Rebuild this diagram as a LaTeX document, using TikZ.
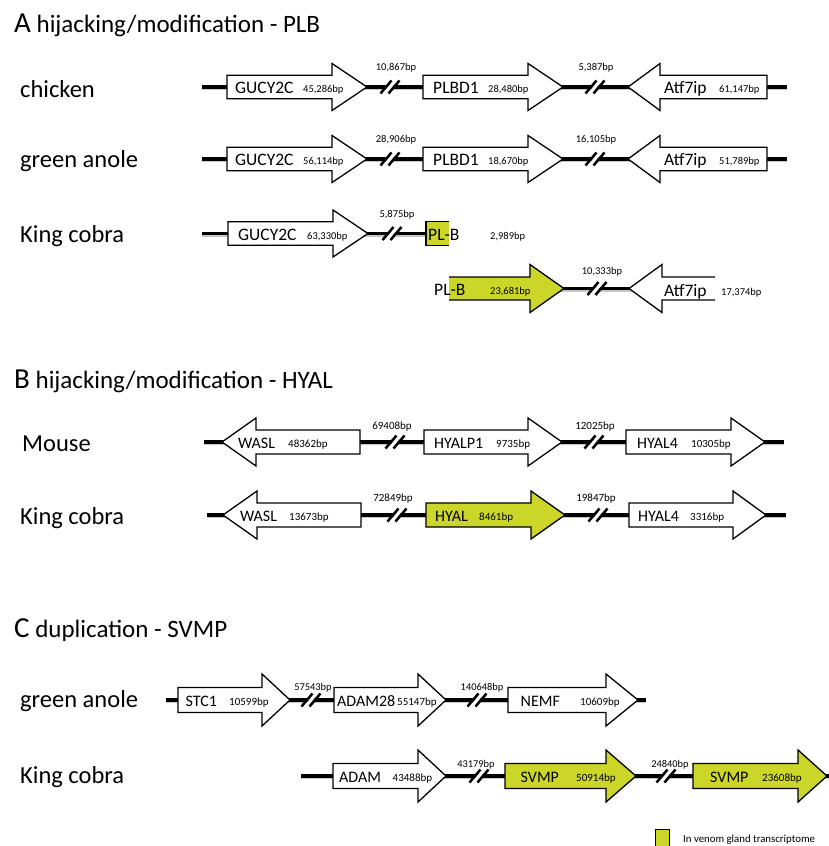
\documentclass[tikz,border=0pt]{standalone}
\usepackage{fontspec}
\setmainfont{Carlito}
\definecolor{venom}{RGB}{203,214,41}
\newcommand\chrom[4]{%
  \coordinate (#1s) at (#2,#4);
  \coordinate (#1e) at (#3,#4);
  \draw[gray!45, line width=2pt] ([yshift=-2.2pt]#1s) -- ([yshift=-2.2pt]#1e);
  \draw[line width=3.4pt] (#1s) -- (#1e);}
\newcommand\brk[2]{%
  \draw[white, line width=3.4pt] (#1-5.5,#2+6.5) -- (#1+5.5,#2-6.5);
  \draw[line width=2.5pt] (#1-9.5,#2+6.5) -- (#1+1.5,#2-6.5);
  \draw[line width=2.5pt] (#1-1.5,#2+6.5) -- (#1+9.5,#2-6.5);}
% right-pointing gene: x1, head base, tip, y, h, H, fill
\newcommand\gR[7]{%
  \filldraw[fill=#7, gene] (#1,#4-#5) -- (#2,#4-#5) -- (#2,#4-#6) -- (#3,#4) -- (#2,#4+#6) -- (#2,#4+#5) -- (#1,#4+#5) -- cycle;}
% left-pointing gene: tip, head base, right end, y, h, H, fill
\newcommand\gL[7]{%
  \filldraw[fill=#7, gene] (#3,#4-#5) -- (#2,#4-#5) -- (#2,#4-#6) -- (#1,#4) -- (#2,#4+#6) -- (#2,#4+#5) -- (#3,#4+#5) -- cycle;}
\tikzset{
  gene/.style={draw=black, line width=1.3pt, line join=miter, miter limit=10},
  title/.style={anchor=base west, inner sep=0pt, font=\fontsize{25}{30}\selectfont},
  species/.style={anchor=base west, inner sep=0pt, font=\fontsize{24.5}{29}\selectfont},
  gnA/.style={anchor=base west, inner sep=0pt, font=\fontsize{17.5}{20}\selectfont},
  gnB/.style={anchor=base west, inner sep=0pt, font=\fontsize{16}{19}\selectfont},
  bpA/.style={anchor=base west, inner sep=0pt, font=\fontsize{10.5}{12}\selectfont},
  bpB/.style={anchor=base west, inner sep=0pt, font=\fontsize{11}{13}\selectfont},
  gapA/.style={anchor=base, inner sep=0pt, font=\fontsize{10.5}{12}\selectfont},
  gapB/.style={anchor=base, inner sep=0pt, font=\fontsize{11}{13}\selectfont},
  gapC/.style={anchor=base, inner sep=0pt, font=\fontsize{10.4}{12}\selectfont},
  legend/.style={anchor=base west, inner sep=0pt, font=\fontsize{10.8}{12}\selectfont},
}
\begin{document}
\begin{tikzpicture}[x=1pt, y=-1pt]
\fill[white] (0,0) rectangle (829,846);
\path[use as bounding box] (0,0) rectangle (829,846);

% ---------------- Section A ----------------
\node[title] (tA) at (14,32) {{\fontsize{29}{30}\selectfont A} hijacking/modification - PLB};

% chicken
\node[species] (sp1) at (20,97) {chicken};
\chrom{c1}{202}{787}{87}
\brk{390}{87}\brk{595}{87}
\gR{227}{332}{367}{87}{11.7}{23.5}{white}
\gR{423}{528}{563}{87}{11.7}{23.5}{white}
\gL{628}{660}{767}{87}{11.7}{23.5}{white}
\node[gnA] (c1g1) at (235,93) {GUCY2C};
\node[bpA] (c1b1) at (303,92) {45,286bp};
\node[gnA] (c1g2) at (433,93) {PLBD1};
\node[bpA] (c1b2) at (488,92) {28,480bp};
\node[gnA] (c1g3) at (664,93) {Atf7ip};
\node[bpA] (c1b3) at (719,92) {61,147bp};
\node[gapA] (c1d1) at (396,70.5) {10,867bp};
\node[gapA] (c1d2) at (596,70.5) {5,387bp};

% green anole
\node[species] (sp2) at (20,167) {green anole};
\chrom{c2}{202}{787}{159}
\brk{390}{159}\brk{595}{159}
\gR{227}{332}{367}{159}{11.7}{23.5}{white}
\gR{423}{528}{563}{159}{11.7}{23.5}{white}
\gL{628}{660}{767}{159}{11.7}{23.5}{white}
\node[gnA] (c2g1) at (235,165) {GUCY2C};
\node[bpA] (c2b1) at (303,164) {56,114bp};
\node[gnA] (c2g2) at (433,165) {PLBD1};
\node[bpA] (c2b2) at (488,164) {18,670bp};
\node[gnA] (c2g3) at (664,165) {Atf7ip};
\node[bpA] (c2b3) at (719,164) {51,789bp};
\node[gapA] (c2d1) at (396,142.5) {28,906bp};
\node[gapA] (c2d2) at (596,142.5) {16,105bp};

% King cobra (A)
\node[species] (sp3) at (20,242) {King cobra};
\chrom{c3}{202}{426}{233.5}
\brk{392}{233.5}
\gR{228}{333}{368}{233.5}{11.7}{23.5}{white}
\fill[venom] (426,221.5) rectangle (449,245.5);
\draw[gene] (449,221.5) -- (426,221.5) -- (426,245.5) -- (449,245.5);
\node[gnA] (c3g1) at (238,240) {GUCY2C};
\node[bpA] (c3b1) at (307,239) {63,330bp};
\node[gnA] (c3g2) at (428,240.5) {PL-B};
\node[bpA] (c3b2) at (490,239.5) {2,989bp};
\node[gapA] (c3d1) at (397,217) {5,875bp};

% King cobra (A) second part
\chrom{c4}{560}{632}{288.5}
\brk{597}{288.5}
\fill[venom] (449,277) -- (530,277) -- (530,264.5) -- (564,288.5) -- (530,312.5) -- (530,300) -- (449,300) -- cycle;
\draw[gene] (449,277) -- (530,277) -- (530,264.5) -- (564,288.5) -- (530,312.5) -- (530,300) -- (449,300);
\fill[white] (715,277) -- (662,277) -- (662,264.5) -- (629,288.5) -- (662,312.5) -- (662,300) -- (715,300) -- cycle;
\draw[gene] (715,277) -- (662,277) -- (662,264.5) -- (629,288.5) -- (662,312.5) -- (662,300) -- (715,300);
\node[gnA] (c4g1) at (434,295) {PL-B};
\node[bpA] (c4b1) at (490,294.5) {23,681bp};
\node[gnA] (c4g2) at (664,296) {Atf7ip};
\node[bpA] (c4b2) at (721,295) {17,374bp};
\node[gapA] (c4d1) at (602,274) {10,333bp};

% ---------------- Section B ----------------
\node[title] (tB) at (14,388) {{\fontsize{29}{30}\selectfont B} hijacking/modification - HYAL};

% Mouse
\node[species] (sp5) at (22,451) {Mouse};
\chrom{c5}{204}{784}{442}
\brk{395}{442}\brk{594}{442}
\gL{222}{256}{360}{442}{12}{24}{white}
\gR{424}{528}{562}{442}{12}{24}{white}
\gR{626}{731}{765}{442}{12}{24}{white}
\node[gnB] (c5g1) at (238,448) {WASL};
\node[bpB] (c5b1) at (288,447) {48362bp};
\node[gnB] (c5g2) at (434,448) {HYALP1};
\node[bpB] (c5b2) at (496,447) {9735bp};
\node[gnB] (c5g3) at (637,448) {HYAL4};
\node[bpB] (c5b3) at (691,447) {10305bp};
\node[gapB] (c5d1) at (392,429) {69408bp};
\node[gapB] (c5d2) at (595,429) {12025bp};

% King cobra (B)
\node[species] (sp6) at (20,524) {King cobra};
\chrom{c6}{207}{786}{515}
\brk{397}{515}\brk{598}{515}
\gL{223}{257}{361}{515}{12}{24}{white}
\gR{426}{531}{565}{515}{12}{24}{venom}
\gR{629}{733}{766}{515}{12}{24}{white}
\node[gnB] (c6g1) at (240,521) {WASL};
\node[bpB] (c6b1) at (289,520) {13673bp};
\node[gnB] (c6g2) at (435,521) {HYAL};
\node[bpB] (c6b2) at (479,520) {8461bp};
\node[gnB] (c6g3) at (638,521) {HYAL4};
\node[bpB] (c6b3) at (690,520) {3316bp};
\node[gapB] (c6d1) at (393,501) {72849bp};
\node[gapB] (c6d2) at (596,501) {19847bp};

% ---------------- Section C ----------------
\node[title] (tC) at (14,637) {{\fontsize{29}{30}\selectfont C} duplication - SVMP};

% green anole (C)
\node[species] (sp7) at (20,707) {green anole};
\chrom{c7}{166}{646}{700}
\brk{311}{700}\brk{477}{700}
\gR{178}{262}{290}{700}{12.5}{26}{white}
\gR{334}{418}{446}{700}{12.5}{26}{white}
\gR{508}{606}{638}{700}{12.5}{26}{white}
\node[gnB] (c7g1) at (185.5,706) {STC1};
\node[bpB] (c7b1) at (229,705) {10599bp};
\node[gnB] (c7g2) at (337,706) {ADAM28};
\node[bpB] (c7b2) at (397,705) {55147bp};
\node[gnB] (c7g3) at (520.5,706) {NEMF};
\node[bpB] (c7b3) at (580,705) {10609bp};
\node[gapC] (c7d1) at (313,690) {57543bp};
\node[gapC] (c7d2) at (482,690) {140648bp};

% King cobra (C)
\node[species] (sp8) at (20,783) {King cobra};
\chrom{c8}{301}{829}{776}
\brk{479}{776}\brk{666}{776}
\gR{333}{418}{446}{776}{12.5}{26}{white}
\gR{505}{606}{636}{776}{12.5}{26}{venom}
\gR{693}{798}{827}{776}{12.5}{26}{venom}
\node[gnB] (c8g1) at (339,782) {ADAM};
\node[bpB] (c8b1) at (392.5,781) {43488bp};
\node[gnB] (c8g2) at (520.5,782) {SVMP};
\node[bpB] (c8b2) at (576,781) {50914bp};
\node[gnB] (c8g3) at (710,782) {SVMP};
\node[bpB] (c8b3) at (762,781) {23608bp};
\node[gapC] (c8d1) at (476,767) {43179bp};
\node[gapC] (c8d2) at (670,767) {24840bp};

% legend
\filldraw[fill=venom, draw=black, line width=1.2pt] (655.5,829.5) rectangle (669.5,846.5);
\node[legend] (lg) at (683,842) {In venom gland transcriptome};
\end{tikzpicture}
\end{document}
